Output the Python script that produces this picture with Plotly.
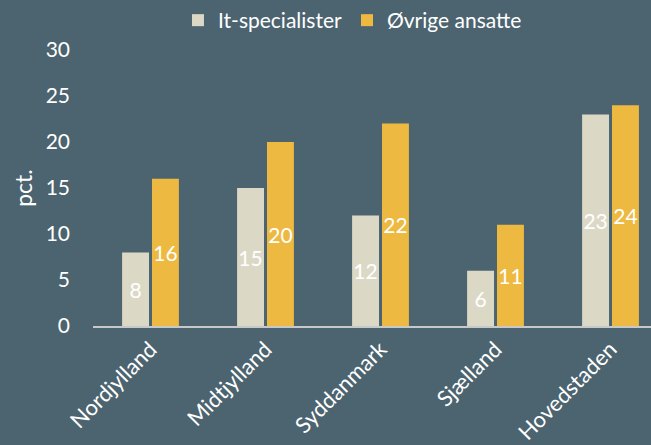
import plotly.graph_objects as go

categories = ["Nordjylland", "Midtjylland", "Syddanmark", "Sjælland", "Hovedstaden"]
it_specialister = [8, 15, 12, 6, 23]
ovrige_ansatte = [16, 20, 22, 11, 24]
y_ticks = [0, 5, 10, 15, 20, 25, 30]

BG = "#4c6470"
FONT = "Lato, 'Open Sans', sans-serif"

fig = go.Figure()
fig.add_trace(go.Bar(
    name="It-specialister", x=categories, y=it_specialister,
    marker=dict(color="#dbd9c5", line=dict(width=0)),
    text=[str(v) for v in it_specialister], textposition="inside",
    insidetextanchor="middle", constraintext="none",
    textfont=dict(color="white", size=21, family=FONT),
))
fig.add_trace(go.Bar(
    name="Øvrige ansatte", x=categories, y=ovrige_ansatte,
    marker=dict(color="#eeb940", line=dict(width=0)),
    text=[str(v) for v in ovrige_ansatte], textposition="inside",
    insidetextanchor="middle", constraintext="none",
    textfont=dict(color="white", size=21, family=FONT),
))

fig.update_layout(
    width=651, height=445,
    paper_bgcolor=BG, plot_bgcolor=BG,
    font=dict(family=FONT, color="white", size=20),
    margin=dict(l=93, r=0, t=49, b=117),
    barmode="group", bargap=0.48, bargroupgap=0.1,
    showlegend=True,
    legend=dict(orientation="h", x=0.465, xanchor="center", y=1.107, yanchor="middle",
                font=dict(size=21, color="white"), bgcolor="rgba(0,0,0,0)"),
    uniformtext=dict(mode=False),
)
fig.update_xaxes(
    range=[-0.5, 4.352], tickangle=-45, showgrid=False, zeroline=False,
    showline=True, linecolor="#c8c8c8", linewidth=1.5, ticks="",
    tickfont=dict(size=22, color="white"),
)
fig.update_yaxes(
    range=[0, 30], tickvals=y_ticks, showgrid=False, zeroline=False,
    showline=False, ticks="", ticklabelstandoff=22,
    tickfont=dict(size=21, color="white"),
    title=dict(text="pct.", font=dict(size=23, color="white"), standoff=6),
)

fig.write_html("out.html", post_script="document.body.style.margin='0';",
               config={"displayModeBar": False})
